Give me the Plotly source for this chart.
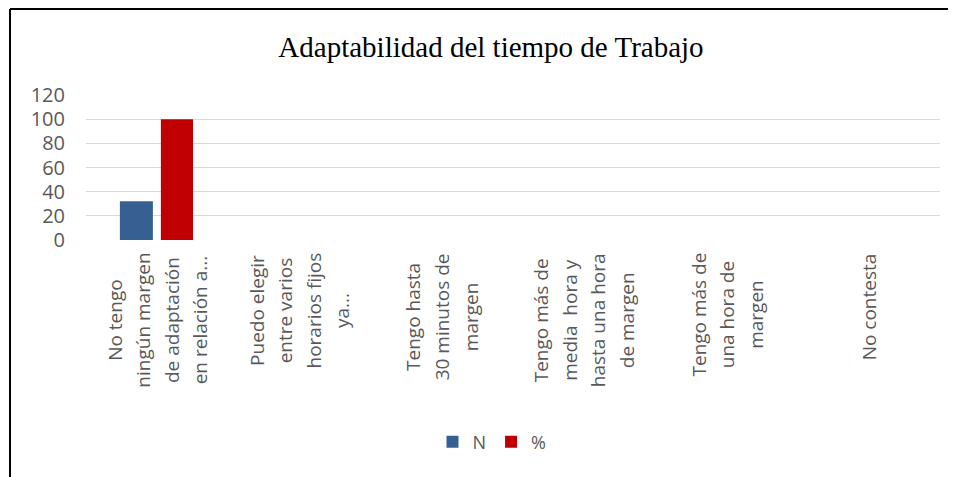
import plotly.graph_objects as go

# ---- data ----
categories = [
    "No tengo\nningún margen\nde adaptación\nen relación a...",
    "Puedo elegir\nentre varios\nhorarios fijos\nya...",
    "Tengo hasta\n30 minutos de\nmargen",
    "Tengo más de\nmedia  hora y\nhasta una hora\nde margen",
    "Tengo más de\nuna hora de\nmargen",
    "No contesta",
]
n_values = [32, 0, 0, 0, 0, 0]
pct_values = [100, 0, 0, 0, 0, 0]
series_names = ["N", "%"]
y_ticks = [0, 20, 40, 60, 80, 100, 120]
title_text = "Adaptabilidad del tiempo de Trabajo"

# ---- layout constants (screen pixels; page body has an 8px margin) ----
OFF = 8
SW, SH = 956, 477
W, H = SW - 2 * OFF, SH - OFF
PL, PR, PT, PB = 86, 940, 95, 240          # plot area in screen pixels
L, R, T, B = PL - OFF, (W + OFF) - PR, PT - OFF, (H + OFF) - PB
plot_h = PB - PT
plot_w = PR - PL

def py(pix):  # screen pixel y -> paper y
    return (PB - pix) / plot_h

def px(pix):  # screen pixel x -> paper x
    return (pix - PL) / plot_w

grey = "#595959"
label_font = "Open Sans"

fig = go.Figure()
fig.add_trace(go.Bar(x=categories, y=n_values, name=series_names[0],
                     marker=dict(color="#366092", line=dict(width=0)),
                     width=0.232, offset=-0.262))
fig.add_trace(go.Bar(x=categories, y=pct_values, name=series_names[1],
                     marker=dict(color="#C00000", line=dict(width=0)),
                     width=0.226, offset=0.026))

annotations = []
for c in categories:
    txt = "<br>".join(f"<span style='font-size:19px'>{ln}</span>" for ln in c.split("\n"))
    annotations.append(dict(
        x=c, xref="x", y=py(251), yref="paper",
        text=txt, textangle=-90, showarrow=False,
        xanchor="center", yanchor="top", align="center",
        font=dict(family=label_font, size=22, color=grey),
    ))

fig.update_layout(
    width=W, height=H,
    margin=dict(l=L, r=R, t=T, b=B, autoexpand=False),
    paper_bgcolor="white", plot_bgcolor="white",
    barmode="group",
    title=dict(text=title_text, x=(491 - OFF) / W, xref="container", xanchor="center",
               y=1 - (47 - OFF) / H, yref="container", yanchor="middle",
               font=dict(family="Liberation Serif, Times New Roman, serif", size=29, color="black")),
    xaxis=dict(type="category", categoryorder="array", categoryarray=categories,
               showticklabels=False, showgrid=False, zeroline=False, showline=False,
               range=[-0.5, len(categories) - 0.5]),
    yaxis=dict(range=[0, 120], tickvals=y_ticks, showgrid=True, gridcolor="#d9d9d9",
               gridwidth=1.3, zeroline=False, showline=False, ticks="",
               ticklabelstandoff=20,
               tickfont=dict(family=label_font, size=20, color=grey)),
    legend=dict(orientation="h", x=px(492), xanchor="center", y=py(442), yanchor="middle",
                font=dict(family=label_font, size=18, color=grey), traceorder="normal"),
    annotations=annotations,
    shapes=[
        dict(type="line", xref="paper", yref="paper", x0=px(10), x1=px(10),
             y0=py(9), y1=py(500), line=dict(color="black", width=2)),
        dict(type="line", xref="paper", yref="paper", x0=px(10), x1=px(980),
             y0=py(9), y1=py(9), line=dict(color="black", width=2)),
    ],
)

fig.write_html("out.html")
